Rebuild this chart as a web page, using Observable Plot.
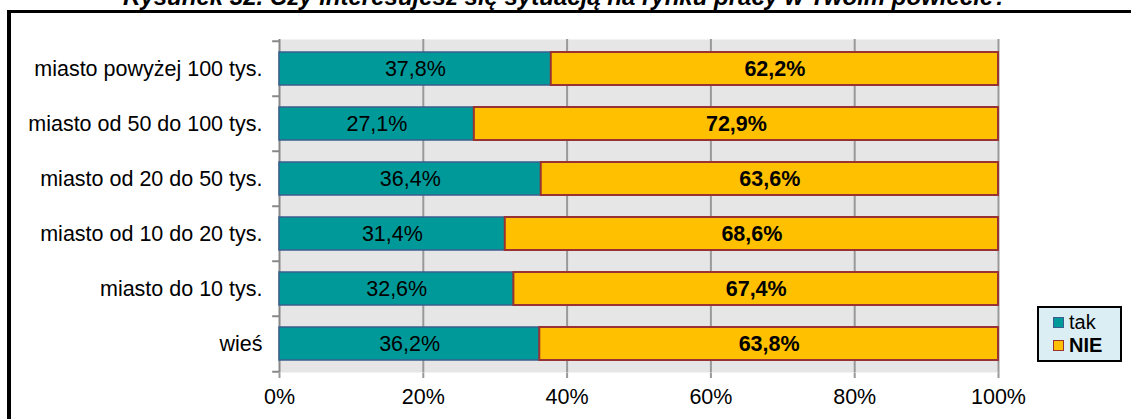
<!DOCTYPE html>
<html>
<head>
<meta charset="utf-8">
<script src="https://cdn.jsdelivr.net/npm/d3@7"></script>
<script src="https://cdn.jsdelivr.net/npm/@observablehq/plot@0.6"></script>
<style>
  html, body { margin: 0; padding: 0; background: #fff; overflow: hidden; }
  #wrap { position: relative; width: 1131px; height: 419px; overflow: hidden; background: #fff; font-family: "Liberation Sans", Arial, sans-serif; }
  #title { position: absolute; left: 0; width: 1131px; top: -15px; text-align: center; font-size: 24px; line-height: 24px; font-weight: bold; font-style: italic; white-space: nowrap; color: #000; }
  #frameTop { position: absolute; left: 7px; top: 10px; width: 1124px; height: 3px; background: #000; }
  #frameLeft { position: absolute; left: 7px; top: 10px; width: 4px; height: 409px; background: #000; }
  #chart { position: absolute; left: 0; top: 0; }
  #chart svg [aria-label^="x-axis"] line, #chart svg [aria-label="x-axis tick"] path { stroke: #999; stroke-width: 2px; }
  #legend { position: absolute; left: 1037px; top: 306px; width: 85px; height: 56px; box-sizing: border-box; border: 2px solid #000; background: #dbeef4; font-size: 20px; }
  .item { position: absolute; left: 14px; display: flex; align-items: center; white-space: nowrap; }
  .sw { width: 9px; height: 9px; border: 1.5px solid; margin-right: 5px; }
</style>
</head>
<body>
<div id="wrap">
  <div id="title">Rysunek 32. Czy interesujesz się sytuacją na rynku pracy w Twoim powiecie?</div>
  <div id="frameTop"></div>
  <div id="frameLeft"></div>
  <div id="chart"></div>
  <div id="legend"></div>
</div>
<script>
const categories = [
  "miasto powyżej 100 tys.",
  "miasto od 50 do 100 tys.",
  "miasto od 20 do 50 tys.",
  "miasto od 10 do 20 tys.",
  "miasto do 10 tys.",
  "wieś"
];
const tak = [37.8, 27.1, 36.4, 31.4, 32.6, 36.2];
const nie = [62.2, 72.9, 63.6, 68.6, 67.4, 63.8];
const xTicks = [0, 20, 40, 60, 80, 100];
const seriesNames = ["tak", "NIE"];
const seriesFill = ["#009999", "#ffc000"];
const seriesStroke = ["#3a5f8f", "#993333"];

const data = categories.map((c, i) => ({cat: c, tak: tak[i], nie: nie[i]}));
const fmt = v => v.toFixed(1).replace(".", ",") + "%";

const W = 1131, H = 419, mt = 39, mb = 47, ml = 279, mr = 133;
const step = (H - mt - mb) / categories.length;

const chart = Plot.plot({
  width: W, height: H,
  marginTop: mt, marginBottom: mb, marginLeft: ml, marginRight: mr,
  style: {fontFamily: "'Liberation Sans', Arial, sans-serif", fontSize: "21.5px", color: "#000", background: "transparent"},
  x: {domain: [0, 100], ticks: xTicks, tickFormat: d => d + "%", tickSize: 6, tickPadding: 10, label: null},
  y: {domain: categories, paddingInner: 0.4, paddingOuter: 0.2, tickSize: 0, tickPadding: 17, label: null},
  marks: [
    Plot.frame({fill: "#e6e6e6", stroke: null}),
    Plot.ruleX(xTicks.slice(1), {stroke: "#999", strokeWidth: 2}),
    Plot.ruleX([0], {stroke: "#888", strokeWidth: 2}),
    Plot.ruleY(categories, {y: d => d, x1: -0.95, x2: 0, dy: -step / 2, stroke: "#888", strokeWidth: 2}),
    Plot.ruleY(categories.slice(-1), {y: d => d, x1: -0.95, x2: 0, dy: step / 2, stroke: "#888", strokeWidth: 2}),
    Plot.barX(data, {y: "cat", x1: 0, x2: "tak", fill: seriesFill[0], stroke: seriesStroke[0], strokeWidth: 1.5}),
    Plot.barX(data, {y: "cat", x1: "tak", x2: d => d.tak + d.nie, fill: seriesFill[1], stroke: seriesStroke[1], strokeWidth: 2}),
    Plot.text(data, {y: "cat", x: d => d.tak / 2, text: d => fmt(d.tak), fill: "#000", fontSize: 21.5}),
    Plot.text(data, {y: "cat", x: d => d.tak + d.nie / 2, text: d => fmt(d.nie), fill: "#000", fontSize: 21.5, fontWeight: "bold"})
  ]
});
document.getElementById("chart").appendChild(chart);

const legend = document.getElementById("legend");
seriesNames.forEach((name, i) => {
  const item = document.createElement("div");
  item.className = "item";
  item.style.top = (i === 0 ? 3 : 26) + "px";
  const sw = document.createElement("span");
  sw.className = "sw";
  sw.style.background = seriesFill[i];
  sw.style.borderColor = seriesStroke[i];
  const t = document.createElement("span");
  t.textContent = name;
  if (i === 1) t.style.fontWeight = "bold";
  item.appendChild(sw);
  item.appendChild(t);
  legend.appendChild(item);
});
</script>
</body>
</html>
